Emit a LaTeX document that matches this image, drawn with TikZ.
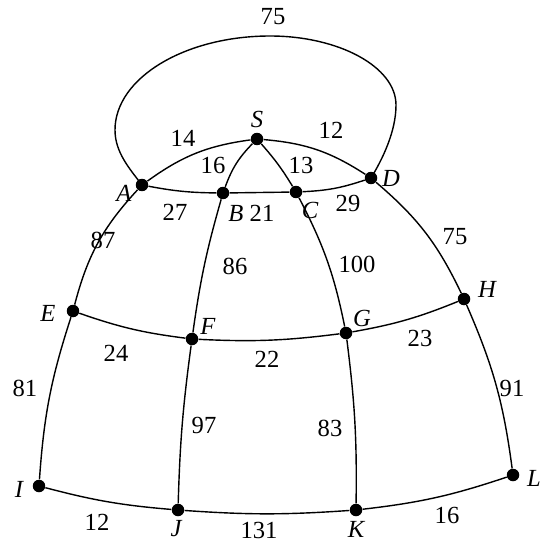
\documentclass[tikz,border=0pt]{standalone}
\usepackage{fontspec}
\setmainfont{Liberation Serif}
\usepackage{tikz}

\tikzset{
  vertex/.style={circle,fill=black,inner sep=0pt,minimum size=0.25cm},
  vname/.style={font=\fontsize{14}{16}\selectfont\itshape},
  wt/.style={font=\fontsize{14}{16}\selectfont},
  edge/.style={line width=0.8pt},
}

\begin{document}
\begin{tikzpicture}[x=0.02cm,y=-0.02cm]
  \useasboundingbox (0,0) rectangle (539,544);
  % vertices
  \node[vertex] (S) at (257,139) {};
  \node[vertex] (A) at (142,185) {};
  \node[vertex] (B) at (223,193) {};
  \node[vertex] (C) at (296,192) {};
  \node[vertex] (D) at (371,178) {};
  \node[vertex] (E) at (73,311) {};
  \node[vertex] (F) at (192,339) {};
  \node[vertex] (G) at (346,333) {};
  \node[vertex] (H) at (464,299) {};
  \node[vertex] (I) at (39,486) {};
  \node[vertex] (J) at (178,510) {};
  \node[vertex] (K) at (356,510) {};
  \node[vertex] (L) at (513,475) {};
  % vertex names
  \node[vname] (nS) at (257,119) {S};
  \node[vname] (nA) at (124,193) {A};
  \node[vname] (nB) at (236,213) {B};
  \node[vname] (nC) at (310,210) {C};
  \node[vname] (nD) at (391,178) {D};
  \node[vname] (nE) at (48,313) {E};
  \node[vname] (nF) at (208,326) {F};
  \node[vname] (nG) at (362,318) {G};
  \node[vname] (nH) at (487,289) {H};
  \node[vname] (nI) at (19,489) {I};
  \node[vname] (nJ) at (176,529) {J};
  \node[vname] (nK) at (356,529) {K};
  \node[vname] (nL) at (534,478) {L};
  % the loop from A over the top to D
  \coordinate (lpW) at (115,130);
  \coordinate (lpN) at (270,36);
  \coordinate (lpE) at (396,105);
  \draw[edge] (A.center) .. controls (129,168) and (115,152) .. (lpW)
    .. controls (115,78) and (185,36) .. (lpN)
    .. controls (339,36) and (396,67) .. (lpE)
    .. controls (396,132) and (382,160) .. (D.center);
  % edges
  \draw[edge] (A) to[bend left=14] (S);
  \draw[edge] (S) to[bend left=14] (D);
  \draw[edge] (A) to[bend right=5] (B);
  \draw[edge] (B) -- (C);
  \draw[edge] (C) to[bend right=8] (D);
  \draw[edge] (S) to[bend right=12] (B);
  \draw[edge] (S) to[bend left=5] (C);
  \draw[edge] (A) to[bend right=14] (E);
  \draw[edge] (E) to[bend right=7] (I);
  \draw[edge] (D) to[bend left=12] (H);
  \draw[edge] (H) to[bend left=8] (L);
  \draw[edge] (B) to[bend right=4] (F);
  \draw[edge] (F) to[bend right=3] (J);
  \draw[edge] (C) to[bend left=8] (G);
  \draw[edge] (G) to[bend left=4] (K);
  \draw[edge] (E) to[bend right=6] (F);
  \draw[edge] (F) to[bend right=5] (G);
  \draw[edge] (G) to[bend right=6] (H);
  \draw[edge] (I) to[bend right=5] (J);
  \draw[edge] (J) to[bend right=4] (K);
  \draw[edge] (K) to[bend right=6] (L);
  % weights
  \node[wt] (wAD) at (273,17) {75};
  \node[wt] (wAS) at (183,138) {14};
  \node[wt] (wSD) at (331,130) {12};
  \node[wt] (wSB) at (213,165) {16};
  \node[wt] (wSC) at (301,165) {13};
  \node[wt] (wAB) at (175,212) {27};
  \node[wt] (wBC) at (262,213) {21};
  \node[wt] (wCD) at (348,203) {29};
  \node[wt] (wAE) at (103,240) {87};
  \node[wt] (wBF) at (235,266) {86};
  \node[wt] (wCG) at (357,264) {100};
  \node[wt] (wDH) at (455,237) {75};
  \node[wt] (wEF) at (116,353) {24};
  \node[wt] (wFG) at (267,359) {22};
  \node[wt] (wGH) at (420,338) {23};
  \node[wt] (wEI) at (25,388) {81};
  \node[wt] (wFJ) at (204,425) {97};
  \node[wt] (wGK) at (330,428) {83};
  \node[wt] (wHL) at (512,388) {91};
  \node[wt] (wIJ) at (97,522) {12};
  \node[wt] (wJK) at (259,530) {131};
  \node[wt] (wKL) at (447,515) {16};
\end{tikzpicture}
\end{document}
